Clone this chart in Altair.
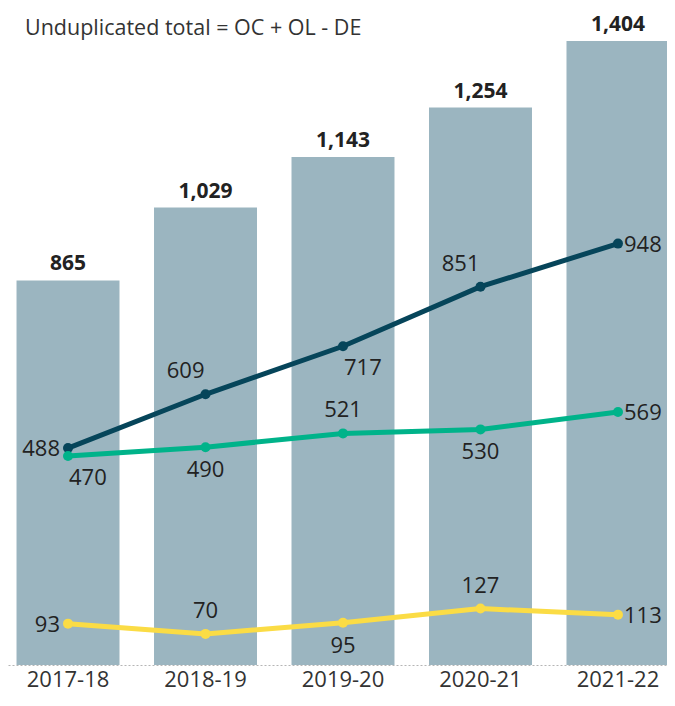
import altair as alt
import pandas as pd

years = ["2017-18", "2018-19", "2019-20", "2020-21", "2021-22"]
totals = [865, 1029, 1143, 1254, 1404]
oc = [488, 609, 717, 851, 948]
ol = [470, 490, 521, 530, 569]
de = [93, 70, 95, 127, 113]
# label placement relative to each point
oc_pos = ["left", "aboveleft", "belowright", "aboveleft", "right"]
ol_pos = ["belowright", "below", "above", "below", "right"]
de_pos = ["left", "above", "below", "above", "right"]
title_text = "Unduplicated total = OC + OL - DE"

FONT = "Open Sans"
bars_df = pd.DataFrame({"year": years, "total": totals})
rows = []
for name, vals, pos in [("OC", oc, oc_pos), ("OL", ol, ol_pos), ("DE", de, de_pos)]:
    for y, v, p in zip(years, vals, pos):
        rows.append({"year": y, "series": name, "value": v, "pos": p})
lines_df = pd.DataFrame(rows)

x = alt.X("year:N", sort=years, title=None,
          scale=alt.Scale(range=[0, 670], paddingInner=0.251, paddingOuter=0.062),
          axis=alt.Axis(labelAngle=0, labelFontSize=22, labelFont=FONT, labelColor="#333333",
                        ticks=False, domainColor="#b5b5b5", domainDash=[2, 2], domainWidth=1,
                        labelPadding=4, grid=False))
yscale = alt.Scale(domain=[0, 1478], nice=False)

bars = alt.Chart(bars_df).mark_bar(color="#9bb5c0", clip=True).encode(
    x=x, y=alt.Y("total:Q", scale=yscale, axis=None))
bar_labels = alt.Chart(bars_df).mark_text(font=FONT, fontSize=21, fontWeight="bold", color="#222222",
                                          baseline="alphabetic", dy=-10).encode(
    x=alt.X("year:N", sort=years), y=alt.Y("total:Q", scale=yscale), text=alt.Text("total:Q", format=","))

color = alt.Color("series:N", scale=alt.Scale(domain=["OC", "OL", "DE"],
                                              range=["#06455a", "#00b38a", "#fbdc45"]), legend=None)
base = alt.Chart(lines_df).encode(x=alt.X("year:N", sort=years), y=alt.Y("value:Q", scale=yscale), color=color)
lines = base.mark_line(strokeWidth=5)
points = base.mark_point(filled=True, size=100, opacity=1)

placements = {
    "left": dict(align="right", dx=-8, dy=8),
    "right": dict(align="left", dx=6, dy=8),
    "above": dict(align="center", dx=0, dy=-16),
    "below": dict(align="center", dx=0, dy=30),
    "aboveleft": dict(align="right", dx=-1, dy=-16),
    "belowright": dict(align="left", dx=1, dy=29),
}
text_layers = []
for p, kw in placements.items():
    text_layers.append(
        alt.Chart(lines_df).transform_filter(alt.datum.pos == p).mark_text(
            font=FONT, fontSize=22, color="#222222", baseline="alphabetic", **kw).encode(
            x=alt.X("year:N", sort=years), y=alt.Y("value:Q", scale=yscale), text="value:Q"))

title = alt.Chart(pd.DataFrame({"t": [title_text]})).mark_text(
    font=FONT, fontSize=21.5, color="#333333", align="left", baseline="alphabetic").encode(
    x=alt.value(17), y=alt.value(27), text="t:N")

chart = alt.layer(bars, bar_labels, lines, points, *text_layers, title).properties(
    width=659, height=657,
    padding={"left": 0, "top": 0, "right": 0, "bottom": 29},
    autosize=alt.AutoSizeParams(type="none"),
).configure_view(stroke=None)

chart.save("out.html", embed_options={"renderer": "svg", "actions": False})
